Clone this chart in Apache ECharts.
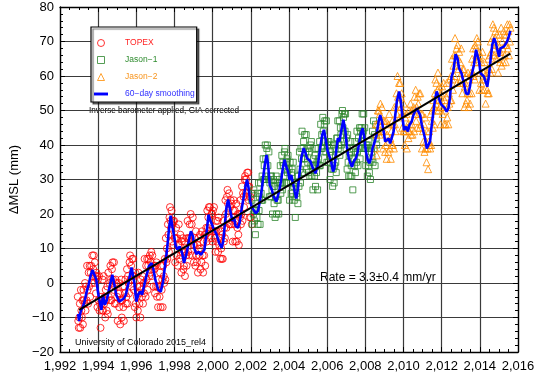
<!DOCTYPE html>
<html>
<head>
<meta charset="utf-8">
<script src="https://cdn.jsdelivr.net/npm/echarts@6/dist/echarts.min.js"></script>
<style>
  html, body { margin: 0; padding: 0; background: #fff; }
  #chart { width: 550px; height: 376px; }
</style>
</head>
<body>
<div id="chart"></div>
<script>
  // one altimeter cycle = 9.9156 days
  const CYCLE = 0.02715;

  const topexStart = 1992.93;
  const topexValues = [
    -4, -11, -13, -10, -6, -13, -2, -8, -10, -5, -12, -2, -5, -6, 0, -8, -1, -5, 5, -2, -6, 3, -1, 5, -4, 3, 5, 0, 8, 2, 4, 8, 0, 6, 2, -3, 3,
    2, -7, 1, -5, 2, -8, -6, -13, -4, -6, -8, 1, -8, 2, -6, -4, -10, -2, -5, -8, -1, -9, 3, -4, 0, -5, 5, 1, -5, 4, 6, 1, -2, 6, -6, -1, 1,
    -6, 0, -4, -11, -3, 0, -7, -3, -12, -5, 1, -10, -5, -1, -7, -11, -1, -3, 1, -6, -4, 4, -6, 2, 0, -3, 6, 8, 1, 5, -1, 7, 2, 7, -2, 2, -7,
    3, -6, -10, -4, -1, -8, 3, -3, -6, -1, -10, 1, -2, -4, 2, -6, 0, -3, 7, 0, -4, 5, 1, 7, -2, 5, 7, 2, 8, 3, 6, 9, 2, 8, 4, -1, 5,
    4, -3, 5, -1, 6, -4, -1, -7, 1, -1, -4, 3, -7, 5, -2, 1, -7, 5, 2, 0, 7, 1, 13, 6, 10, 7, 17, 14, 9, 19, 22, 18, 16, 21, 12, 17, 18,
    11, 18, 13, 6, 13, 16, 8, 13, 5, 11, 17, 7, 11, 14, 8, 3, 12, 9, 13, 4, 5, 12, 2, 9, 8, 5, 13, 18, 9, 13, 8, 17, 13, 20, 12, 17, 8,
    19, 11, 6, 11, 13, 5, 15, 8, 6, 11, 3, 13, 10, 8, 14, 4, 10, 6, 15, 8, 3, 12, 8, 14, 5, 14, 16, 12, 21, 16, 19, 22, 15, 22, 17, 13, 20,
    20, 12, 21, 15, 22, 13, 15, 9, 18, 15, 12, 18, 9, 19, 11, 13, 7, 15, 10, 7, 14, 7, 18, 12, 16, 13, 24, 20, 16, 25, 27, 23, 21, 26, 17, 22, 24,
    17, 23, 18, 12, 21, 24, 17, 21, 12, 18, 23, 12, 16, 20, 14, 11, 20, 19, 24, 17, 20, 28, 18, 26, 25, 22, 30, 31, 26, 30, 25, 32, 28, 32, 24, 28, 19,
    25, 19, 26, 17
  ];

  const jason1Start = 2002.05;
  const jason1Values = [
    24, 17, 26, 20, 27, 18, 21, 14, 23, 21, 19, 26, 17, 29, 21, 25, 17, 29, 26, 24, 31, 24, 36, 30, 34, 30, 40, 36, 31, 39, 40, 34, 30, 38, 25, 29, 31,
    25, 31, 27, 20, 28, 30, 23, 28, 19, 25, 31, 20, 24, 29, 24, 20, 30, 29, 34, 26, 29, 37, 27, 35, 34, 31, 38, 39, 33, 35, 29, 36, 32, 37, 29, 33, 24,
    35, 29, 26, 32, 33, 25, 35, 28, 24, 29, 19, 29, 26, 25, 31, 23, 31, 28, 38, 33, 29, 39, 36, 44, 32, 39, 41, 36, 43, 36, 38, 43, 33, 39, 35, 32, 39,
    38, 31, 40, 34, 41, 31, 34, 27, 36, 34, 31, 37, 28, 39, 32, 35, 27, 39, 36, 34, 41, 34, 46, 39, 43, 39, 48, 44, 38, 46, 47, 41, 38, 47, 35, 40, 41,
    35, 41, 37, 30, 38, 40, 33, 37, 28, 33, 40, 29, 34, 39, 35, 32, 42, 42, 47, 39, 40, 47, 37, 45, 43, 40, 49, 50, 45, 48, 41, 49, 44, 49, 39, 42, 33,
    43, 35, 31, 37, 38, 31, 41, 34, 31, 36, 27, 39, 36, 34, 41, 32, 38, 35, 44, 38, 34, 42, 39, 45, 36, 44, 45, 41, 49, 43, 44, 49, 39, 45, 39, 34, 40,
    39, 31, 40, 34, 41, 32, 35, 30, 39, 38, 36, 44, 35, 47, 39, 43, 34, 46, 42, 40
  ];

  const jason2Start = 2008.52;
  const jason2Values = [
    39, 46, 43, 37, 46, 50, 44, 50, 43, 49, 52, 44, 47, 51, 44, 39, 47, 44, 47, 38, 40, 47, 36, 43, 41, 38, 46, 49, 39, 42, 36, 44, 40, 47, 40, 46, 39,
    51, 46, 44, 51, 55, 49, 60, 54, 52, 58, 48, 58, 54, 51, 55, 45, 49, 44, 52, 44, 40, 48, 44, 49, 39, 45, 46, 42, 50, 44, 46, 52, 43, 50, 46, 43, 50,
    51, 44, 54, 49, 56, 47, 51, 45, 54, 52, 49, 55, 45, 55, 46, 49, 39, 49, 44, 41, 46, 38, 48, 39, 41, 35, 44, 39, 33, 41, 44, 40, 39, 49, 40, 47, 50,
    45, 53, 51, 46, 55, 59, 52, 58, 50, 56, 61, 50, 53, 57, 51, 46, 55, 53, 57, 49, 51, 58, 46, 53, 50, 46, 54, 58, 48, 51, 46, 55, 52, 59, 53, 60, 53,
    65, 59, 56, 63, 66, 60, 71, 66, 63, 68, 58, 69, 65, 62, 67, 58, 64, 59, 68, 61, 55, 62, 58, 62, 51, 57, 58, 52, 60, 53, 55, 61, 51, 59, 55, 52, 60,
    61, 55, 65, 61, 68, 60, 64, 59, 69, 68, 66, 71, 64, 70, 65, 67, 56, 66, 61, 58, 64, 56, 67, 59, 61, 56, 64, 59, 52, 60, 61, 56, 55, 65, 55, 62, 66,
    61, 70, 67, 62, 71, 75, 68, 74, 66, 71, 73, 65, 69, 72, 65, 61, 69, 67, 72, 64, 67, 74, 63, 70, 68, 64, 73, 72, 66, 69, 64, 72, 69, 75, 68, 73, 66,
    75, 70, 74
  ];

  // 60-day smoothed curve, [year, mm]
  const smooth60 = [
    [1992.95,-9],[1993.0,-11],[1993.05,-9],[1993.1,-8],[1993.2,-7],[1993.3,-5],[1993.4,-2.5],[1993.5,-0.5],[1993.6,2],[1993.7,3.8],[1993.8,4.3],[1993.9,1],
    [1994.0,-3],[1994.1,-6],[1994.17,-7.8],[1994.25,-3.5],[1994.35,-6.3],[1994.45,-5],[1994.6,-1],[1994.74,2.4],[1994.85,-0.5],[1994.95,-3.5],
    [1995.1,-5.4],[1995.2,-5.8],[1995.35,-4.5],[1995.45,-3.4],[1995.6,0.4],[1995.75,4.5],[1995.9,0],[1996.0,-5.4],[1996.1,-3.4],[1996.2,-2.4],
    [1996.3,-3.4],[1996.4,-1],[1996.5,1.4],[1996.65,4.8],[1996.8,5.8],[1996.9,3.8],[1997.0,0.8],[1997.15,-2],[1997.28,-2.5],[1997.4,0.4],
    [1997.5,4.8],[1997.6,9.2],[1997.7,15],[1997.8,19.5],[1997.9,16],[1998.0,13],[1998.05,11],[1998.15,9.7],[1998.27,10.6],[1998.4,8.7],
    [1998.5,5.8],[1998.65,9],[1998.79,13.5],[1998.86,15],[1998.97,13.5],[1999.03,10.2],[1999.14,8.4],[1999.26,9],[1999.38,8.2],[1999.48,7.7],
    [1999.57,9.7],[1999.69,15],[1999.78,19.8],[1999.86,18.4],[1999.95,18.4],[2000.03,16],[2000.12,15.5],[2000.21,14],[2000.34,11.6],
    [2000.47,10.2],[2000.55,12],[2000.64,17],[2000.72,21.8],[2000.81,24.2],[2000.93,20.8],[2001.03,18],[2001.12,19],[2001.2,16.5],
    [2001.33,16],[2001.41,17.4],[2001.5,20.8],[2001.62,24.7],[2001.72,28],[2001.8,30],[2001.88,27.6],[2001.97,23.7],[2002.05,22],
    [2002.12,21.6],[2002.26,20.2],[2002.38,21],[2002.47,23.6],[2002.56,26.5],[2002.64,30.3],[2002.73,34.2],[2002.82,37.1],[2002.9,34.7],
    [2002.99,28.4],[2003.08,27.4],[2003.2,25],[2003.34,23.6],[2003.43,25.5],[2003.51,27.4],[2003.6,30.3],[2003.69,33.7],[2003.77,35.7],
    [2003.86,33.7],[2003.95,32.3],[2004.03,29.9],[2004.12,31.3],[2004.21,28.9],[2004.3,26.5],[2004.38,24.5],[2004.47,27.4],[2004.56,32.3],
    [2004.64,36.2],[2004.77,39.1],[2004.87,37.6],[2004.94,36.2],[2005.04,36.7],[2005.13,35.2],[2005.22,33.7],[2005.3,32.8],[2005.39,31.8],
    [2005.51,34.2],[2005.63,39.1],[2005.74,42.9],[2005.83,44.4],[2005.91,42],[2006.03,38.1],[2006.12,36.7],[2006.21,35.2],[2006.3,32.3],
    [2006.38,33.3],[2006.47,38.1],[2006.56,42],[2006.64,41],[2006.73,43.9],[2006.85,47.3],[2006.96,43.9],[2007.03,39.5],[2007.13,36.2],
    [2007.22,34.7],[2007.3,33.7],[2007.39,35.2],[2007.51,36.2],[2007.6,38.1],[2007.69,41],[2007.77,43.4],[2007.86,44.9],[2007.95,42],
    [2008.03,38.1],[2008.12,35.7],[2008.21,34.7],[2008.3,36.2],[2008.38,39.1],[2008.47,40.5],[2008.59,43],[2008.7,47],[2008.78,48.7],
    [2008.87,46.8],[2008.96,43.9],[2009.04,41],[2009.13,40.5],[2009.22,41.9],[2009.3,40.5],[2009.39,40.5],[2009.48,43.9],[2009.57,48.7],
    [2009.65,52.6],[2009.77,55.5],[2009.86,52.6],[2009.95,47.7],[2010.03,44.3],[2010.14,45.3],[2010.23,43.9],[2010.31,45.8],[2010.43,46.8],
    [2010.52,48.7],[2010.6,49.7],[2010.7,50.6],[2010.78,51.1],[2010.87,48.7],[2010.96,45.8],[2011.04,43.9],[2011.13,41.9],[2011.22,39],
    [2011.3,39],[2011.39,41],[2011.48,45.8],[2011.57,49.7],[2011.65,53.1],[2011.74,55.5],[2011.83,54],[2011.91,52.6],[2012.0,51.6],
    [2012.09,52.1],[2012.17,50.6],[2012.26,49.7],[2012.35,50.6],[2012.43,53.5],[2012.52,59.8],[2012.61,61.3],[2012.73,66.3],[2012.83,65.1],
    [2012.91,62.3],[2013.04,60.8],[2013.16,57.9],[2013.27,55],[2013.39,54.7],[2013.48,56.9],[2013.57,60.3],[2013.69,63.2],[2013.8,67.6],
    [2013.87,68.1],[2013.96,64.2],[2014.04,60.8],[2014.13,61.3],[2014.22,59.8],[2014.3,58.4],[2014.39,56.9],[2014.48,60.3],[2014.57,65.2],
    [2014.65,69],[2014.75,71],[2014.84,69.5],[2014.94,67.1],[2015.01,65.6],[2015.08,68],[2015.17,67.6],[2015.26,68.5],[2015.34,68.1],
    [2015.43,70],[2015.52,71.5],[2015.6,73.1]
  ];

  // linear fit, 3.3 mm/yr
  const trendLine = [[1993.0, -7.8], [2015.6, 66.5]];

  const xTicks = { min: 1992, max: 2016, step: 2 };
  const yTicks = { min: -20, max: 80, step: 10 };

  const toPoints = (start, values) => values.map((v, i) => [start + i * CYCLE, v]);
  const minus = (v) => String(v).replace("-", "\u2212");

  const FONT = "Liberation Sans";

  const myChart = echarts.init(document.getElementById("chart"));

  const frameAxis = {
    axisLine: { show: true, onZero: false, lineStyle: { color: "#000", width: 1.3 } },
    axisTick: { show: true, inside: true, length: 5, lineStyle: { color: "#000", width: 1 } },
    minorTick: { show: true, length: 3, lineStyle: { color: "#000", width: 1 } },
  };

  const option = {
    animation: false,
    backgroundColor: "#fff",
    grid: { left: 57, right: 32, top: 7, bottom: 24 },
    legend: {
      orient: "vertical",
      left: 91,
      top: 27,
      padding: [10, 2, 2, 3],
      itemGap: 5,
      itemWidth: 14,
      itemHeight: 7,
      symbolKeepAspect: true,
      backgroundColor: "#fff",
      borderColor: "#000",
      borderWidth: 1.2,
      borderRadius: 0,
      shadowColor: "rgba(0,0,0,0.55)",
      shadowOffsetX: 2,
      shadowOffsetY: 2,
      shadowBlur: 1,
      selectedMode: false,
      textStyle: { fontFamily: FONT, fontSize: 8.5, padding: [0, 0, 0, 12], lineHeight: 12 },
      data: [
        {
          name: "TOPEX",
          icon: "path://M4,0A4,4 0 1,1 3.99,0Z",
          itemStyle: { borderWidth: 1 },
          textStyle: { color: "#ff2222" },
        },
        {
          name: "Jason\u22121",
          icon: "path://M0,0H8V8H0Z",
          itemStyle: { borderWidth: 1 },
          textStyle: { color: "#2e8b2e" },
        },
        {
          name: "Jason\u22122",
          icon: "path://M4,0L8,8H0Z",
          itemStyle: { borderWidth: 1 },
          textStyle: { color: "#f7941d" },
        },
        {
          name: "60\u2212day smoothing",
          icon: "path://M0,0H24V5H0Z",
          itemStyle: { color: "#0000ff", borderWidth: 0 },
          textStyle: { color: "#3030ff" },
        },
      ],
    },
    xAxis: [
      {
        type: "value",
        min: xTicks.min,
        max: xTicks.max,
        interval: xTicks.step,
        minorSplitLine: { show: false },
        minorTick: { ...frameAxis.minorTick, splitNumber: 4 },
        axisLine: frameAxis.axisLine,
        axisTick: frameAxis.axisTick,
        splitLine: { show: true, lineStyle: { color: "#3a3a3a", width: 1.2 } },
        axisLabel: { color: "#000", fontFamily: FONT, fontSize: 13, margin: 8 },
      },
      {
        type: "value",
        position: "top",
        min: xTicks.min,
        max: xTicks.max,
        interval: xTicks.step,
        minorTick: { ...frameAxis.minorTick, splitNumber: 4 },
        axisLine: frameAxis.axisLine,
        axisTick: frameAxis.axisTick,
        splitLine: { show: false },
        axisLabel: { show: false },
      },
    ],
    yAxis: [
      {
        type: "value",
        min: yTicks.min,
        max: yTicks.max,
        interval: yTicks.step,
        name: "\u0394MSL (mm)",
        nameLocation: "middle",
        nameRotate: 90,
        nameGap: 39,
        nameTextStyle: { color: "#000", fontFamily: FONT, fontSize: 13 },
        minorTick: { ...frameAxis.minorTick, splitNumber: 5 },
        axisLine: frameAxis.axisLine,
        axisTick: frameAxis.axisTick,
        splitLine: { show: true, lineStyle: { color: "#3a3a3a", width: 1.2 } },
        axisLabel: { color: "#000", fontFamily: FONT, fontSize: 13, margin: 6, formatter: minus },
      },
      {
        type: "value",
        position: "right",
        min: yTicks.min,
        max: yTicks.max,
        interval: yTicks.step,
        minorTick: { ...frameAxis.minorTick, splitNumber: 5 },
        axisLine: frameAxis.axisLine,
        axisTick: frameAxis.axisTick,
        splitLine: { show: false },
        axisLabel: { show: false },
      },
    ],
    graphic: [
      {
        type: "text",
        left: 89,
        top: 107,
        style: { text: "Inverse barometer applied, GIA corrected", fill: "#000", font: "8.2px " + FONT },
      },
      {
        type: "text",
        left: 320,
        top: 272,
        style: { text: "Rate = 3.3\u00b10.4 mm/yr", fill: "#000", font: "12px " + FONT },
      },
      {
        type: "text",
        left: 75,
        top: 338,
        style: { text: "University of Colorado 2015_rel4", fill: "#000", font: "9px " + FONT },
      },
    ],
    series: [
      {
        name: "TOPEX",
        type: "scatter",
        symbol: "circle",
        symbolSize: 7,
        xAxisIndex: 0,
        yAxisIndex: 0,
        itemStyle: { color: "rgba(255,255,255,0)", borderColor: "#ff0000", borderWidth: 1 },
        data: toPoints(topexStart, topexValues),
      },
      {
        name: "Jason\u22121",
        type: "scatter",
        symbol: "rect",
        symbolSize: 6,
        xAxisIndex: 0,
        yAxisIndex: 0,
        itemStyle: { color: "rgba(255,255,255,0)", borderColor: "#2a842a", borderWidth: 1 },
        data: toPoints(jason1Start, jason1Values),
      },
      {
        name: "Jason\u22122",
        type: "scatter",
        symbol: "triangle",
        symbolSize: 7,
        xAxisIndex: 0,
        yAxisIndex: 0,
        itemStyle: { color: "rgba(255,255,255,0)", borderColor: "#ff8c00", borderWidth: 1 },
        data: toPoints(jason2Start, jason2Values),
      },
      {
        name: "60\u2212day smoothing",
        type: "line",
        showSymbol: false,
        symbol: "none",
        xAxisIndex: 0,
        yAxisIndex: 0,
        lineStyle: { color: "#0000ff", width: 2.6 },
        itemStyle: { color: "#0000ff" },
        data: smooth60,
      },
      {
        name: "trend",
        type: "line",
        showSymbol: false,
        symbol: "none",
        xAxisIndex: 0,
        yAxisIndex: 0,
        lineStyle: { color: "#000", width: 2 },
        data: trendLine,
      },
    ],
  };

  option && myChart.setOption(option);
</script>
</body>
</html>
